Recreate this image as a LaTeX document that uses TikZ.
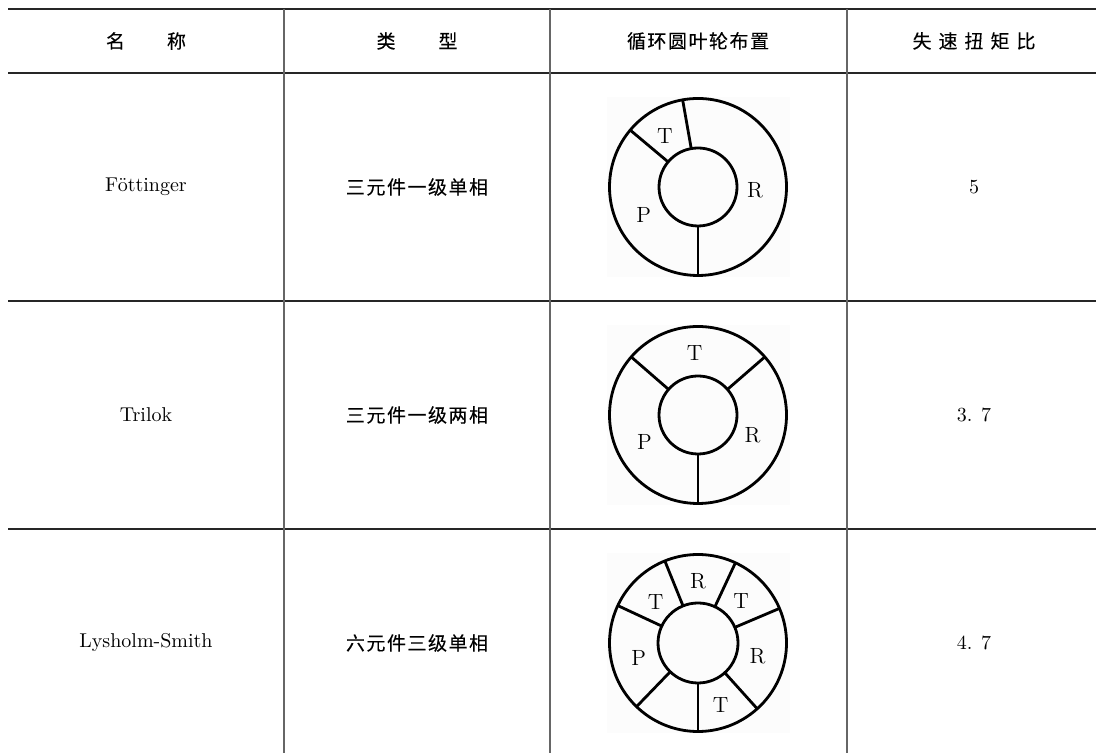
\documentclass[tikz,border=0pt]{standalone}
\usepackage{fontspec}
\newfontfamily\cjk[LetterSpace=8,FakeBold=0.2]{Noto Sans CJK SC}

\begin{document}
\begin{tikzpicture}[x=0.5pt,y=0.5pt,
    hline/.style={line width=0.6pt,black!85},
    vline/.style={line width=0.6pt,black!60},
    ring/.style={line width=1.4pt},
    latin/.style={font=\fontsize{10}{12}\selectfont},
    hanzi/.style={font=\cjk\fontsize{9.5}{12}\selectfont},
    blade/.style={font=\fontsize{11}{12}\selectfont}]

    \useasboundingbox (0,0) rectangle (1096,753);

    % --- Coordinates ---
    % left and right ends of the rules, in pixels from the bottom
    \coordinate (TopL) at (8,744);    \coordinate (TopR) at (1096,744);
    \coordinate (HeadL) at (8,680);   \coordinate (HeadR) at (1096,680);
    \coordinate (RowAL) at (8,452);   \coordinate (RowAR) at (1096,452);
    \coordinate (RowBL) at (8,224);   \coordinate (RowBR) at (1096,224);

    % --- Rules ---
    \draw[hline,line width=1.1pt] (TopL) -- (TopR);
    \draw[hline] (HeadL) -- (HeadR);
    \draw[hline] (RowAL) -- (RowAR);
    \draw[hline] (RowBL) -- (RowBR);

    % --- Column lines ---
    \draw[vline] (284,744) -- (284,0);
    \draw[vline] (550,744) -- (550,0);
    \draw[vline] (847,744) -- (847,0);

    % --- Header ---
    \node[hanzi] (hname) at (146,712) {名\hspace{21pt}称};
    \node[hanzi] (htype) at (417,712) {类\hspace{21.5pt}型};
    \node[hanzi] (hring) at (698,712) {循环圆叶轮布置};
    \node[hanzi] (hratio) at (974,712) {失\hspace{3.5pt}速\hspace{3.5pt}扭\hspace{3.5pt}矩\hspace{3.5pt}比};

    % --- Row 1 ---
    \node[latin] (name1) at (146,566) {Föttinger};
    \node[hanzi] (type1) at (417,566) {三元件一级单相};
    \node[latin] (ratio1) at (974,566) {5};

    % --- Row 2 ---
    \node[latin] (name2) at (146,338) {Trilok};
    \node[hanzi] (type2) at (417,338) {三元件一级两相};
    \node[latin] (ratio2) at (974,338) {3. 7};

    % --- Row 3 ---
    \node[latin] (name3) at (146,110) {Lysholm-Smith};
    \node[hanzi] (type3) at (417,110) {六元件三级单相};
    \node[latin] (ratio3) at (974,110) {4. 7};

    % --- Ring 1: one turbine, one reactor, one pump ---
    \begin{scope}[shift={(698,566)}]
        \fill[black!1] (-91,-90) rectangle (92,90);
        \coordinate (O1) at (0,0);
        \draw[ring] (O1) circle (88.5);
        \draw[ring] (O1) circle (39);
        \draw[ring] (100:39) -- (100:88.5);
        \draw[ring] (140:39) -- (140:88.5);
        \draw[ring] (270:39) -- (270:88.5);
        \node[blade] (T1) at (123:61) {T};
        \node[blade] (R1) at (-3:57) {R};
        \node[blade] (P1) at (207:61) {P};
    \end{scope}

    % --- Ring 2 ---
    \begin{scope}[shift={(698,338)}]
        \fill[black!1] (-91,-90) rectangle (92,90);
        \coordinate (O2) at (0,0);
        \draw[ring] (O2) circle (88.5);
        \draw[ring] (O2) circle (39);
        \draw[ring] (41:39) -- (41:88.5);
        \draw[ring] (139:39) -- (139:88.5);
        \draw[ring] (270:39) -- (270:88.5);
        \node[blade] (T2) at (93:62) {T};
        \node[blade] (P2) at (207:60) {P};
        \node[blade] (R2) at (340:58) {R};
    \end{scope}

    % --- Ring 3: six elements ---
    \begin{scope}[shift={(698,110)}]
        \fill[black!1] (-91,-90) rectangle (92,90);
        \coordinate (O3) at (0,0);
        \draw[ring] (O3) circle (88.5);
        \draw[ring] (O3) circle (40);
        \draw[ring] (23:40) -- (23:88.5);
        \draw[ring] (65:40) -- (65:88.5);
        \draw[ring] (112:40) -- (112:88.5);
        \draw[ring] (155:40) -- (155:88.5);
        \draw[ring] (226:40) -- (226:88.5);
        \draw[ring] (270:40) -- (270:88.5);
        \draw[ring] (312:40) -- (312:88.5);
        \node[blade] (R3a) at (90:62) {R};
        \node[blade] (T3a) at (136:59) {T};
        \node[blade] (T3b) at (44:60) {T};
        \node[blade] (P3) at (194:61) {P};
        \node[blade] (R3b) at (347:61) {R};
        \node[blade] (T3c) at (290:66) {T};
    \end{scope}

\end{tikzpicture}
\end{document}
